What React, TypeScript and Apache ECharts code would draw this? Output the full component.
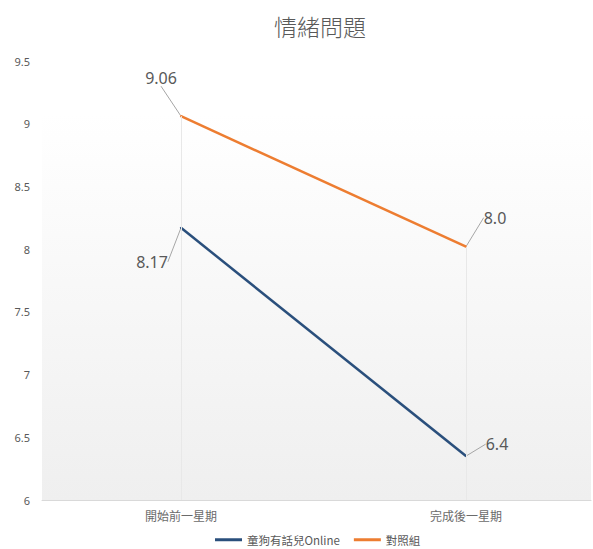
import React, { useEffect, useRef } from "react";
import * as echarts from "echarts";

const categories = ["開始前一星期", "完成後一星期"];
const seriesNames = ["童狗有話兒Online", "對照組"];
const blueValues = [8.17, 6.35];
const orangeValues = [9.06, 8.02];
const blueLabels = ["8.17", "6.4"];
const orangeLabels = ["9.06", "8.0"];
const yTicks = [6, 6.5, 7, 7.5, 8, 8.5, 9, 9.5];

const labelOffsets: Record<string, [number, number]> = {
  "0-0": [-29, 48],
  "0-1": [31, 2],
  "1-0": [-20, -24],
  "1-1": [29, -15],
};

export default function App() {
  const ref = useRef<HTMLDivElement>(null);
  useEffect(() => {
    if (!ref.current) return;
    const chart = echarts.init(ref.current, undefined, { renderer: "svg" });
    const labelFont = { fontFamily: "Noto Sans", fontSize: 16, color: "#595959" };
    const top = 61;
    const bottom = 49;
    chart.setOption({
      animation: false,
      title: {
        text: "情緒問題",
        left: 315,
        top: 9,
        textAlign: "center",
        textStyle: {
          fontFamily: "Noto Sans CJK TC",
          fontWeight: 300,
          fontSize: 23,
          color: "#595959",
        },
      },
      legend: {
        data: seriesNames,
        top: 529,
        left: 210,
        icon: "rect",
        itemWidth: 27,
        itemHeight: 3,
        itemGap: 14,
        textStyle: { fontFamily: "Noto Sans CJK TC", fontSize: 11.5, color: "#595959" },
      },
      grid: [
        {
          left: 42,
          right: 2,
          top,
          bottom,
          show: true,
          borderWidth: 0,
          backgroundColor: {
            type: "linear",
            x: 0,
            y: 0,
            x2: 0,
            y2: 1,
            colorStops: [
              { offset: 0, color: "#ffffff" },
              { offset: 0.12, color: "#ffffff" },
              { offset: 1, color: "#efefef" },
            ],
          },
        },
        { left: 181, right: 127, top, bottom },
      ],
      xAxis: [
        {
          type: "value",
          gridIndex: 0,
          min: 0,
          max: 1,
          axisLine: { show: true, lineStyle: { color: "#d9d9d9", width: 1 } },
          axisTick: { show: false },
          axisLabel: { show: false },
          splitLine: { show: false },
        },
        {
          type: "category",
          gridIndex: 1,
          data: categories,
          boundaryGap: false,
          axisLine: { show: false },
          axisTick: { show: false },
          splitLine: { show: false },
          axisLabel: {
            margin: 9,
            fontFamily: "Noto Sans CJK TC",
            fontSize: 12,
            color: "#6b6b6b",
          },
        },
      ],
      yAxis: [
        {
          type: "value",
          gridIndex: 0,
          min: yTicks[0],
          max: yTicks[yTicks.length - 1],
          interval: 0.5,
          axisLine: { show: false },
          axisTick: { show: false },
          splitLine: { show: false },
          axisLabel: {
            margin: 12,
            fontFamily: "Noto Sans",
            fontSize: 11,
            color: "#595959",
          },
        },
        {
          type: "value",
          gridIndex: 1,
          min: yTicks[0],
          max: yTicks[yTicks.length - 1],
          interval: 0.5,
          show: false,
        },
      ],
      labelLayout: (params: any) => {
        const off = labelOffsets[`${params.seriesIndex}-${params.dataIndex}`];
        if (!off) return {};
        return { dx: off[0], dy: off[1] };
      },
      series: [
        {
          name: seriesNames[0],
          type: "line",
          xAxisIndex: 1,
          yAxisIndex: 1,
          data: blueValues,
          symbol: "circle",
          symbolSize: 2,
          showSymbol: true,
          itemStyle: { color: "#2a4f7c" },
          lineStyle: { color: "#2a4f7c", width: 2.5 },
          label: {
            show: true,
            position: "top",
            ...labelFont,
            formatter: (p: any) => blueLabels[p.dataIndex],
          },
          labelLine: { show: true, lineStyle: { color: "#a6a6a6", width: 1 } },
          z: 3,
        },
        {
          name: seriesNames[1],
          type: "line",
          xAxisIndex: 1,
          yAxisIndex: 1,
          data: orangeValues,
          symbol: "circle",
          symbolSize: 2,
          showSymbol: true,
          itemStyle: { color: "#ed7d31" },
          lineStyle: { color: "#ed7d31", width: 2.5 },
          label: {
            show: true,
            position: "top",
            ...labelFont,
            formatter: (p: any) => orangeLabels[p.dataIndex],
          },
          labelLine: { show: true, lineStyle: { color: "#a6a6a6", width: 1 } },
          markLine: {
            silent: true,
            symbol: "none",
            label: { show: false },
            lineStyle: { color: "#e8e8e8", width: 1, type: "solid" },
            data: categories.map((c, i) => [
              { coord: [c, orangeValues[i]] },
              { coord: [c, yTicks[0]] },
            ]),
          },
          z: 3,
        },
      ],
    });
    return () => chart.dispose();
  }, []);
  return (
    <div
      ref={ref}
      style={{ position: "absolute", left: 0, top: 0, width: 593, height: 549 }}
    />
  );
}
